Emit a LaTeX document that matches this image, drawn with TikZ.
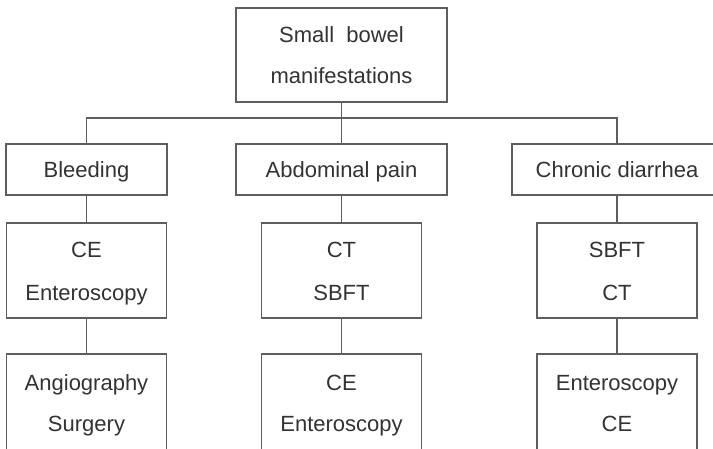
\documentclass[tikz,border=0pt]{standalone}
\usepackage{fontspec}
\setmainfont{Liberation Sans}
\usetikzlibrary{positioning}
\definecolor{mLine}{HTML}{5E5E5E}
\definecolor{mText}{HTML}{333333}

\begin{document}
\begin{tikzpicture}[
  x=1pt, y=-1pt,
  every node/.style={font=\fontsize{22}{26}\selectfont, text=mText},
  box/.style={draw=mLine, line width=1.1pt, fill=white, inner sep=0pt,
              align=center, minimum height=#1},
  topbox/.style={box=94pt, minimum width=211pt, font=\fontsize{22}{41}\selectfont},
  catbox/.style={box=51pt, text height=16pt, text depth=0pt},
  testbox/.style={box=95pt, minimum width=160pt, font=\fontsize{22}{43}\selectfont},
  nextbox/.style={box=98pt, minimum width=160pt, font=\fontsize{22}{41}\selectfont},
  conn/.style={draw=mLine, line width=1.1pt},
]
  % Page
  \useasboundingbox (0,0) rectangle (713,448);
  \clip (0,0) rectangle (713,448);

  % Root
  \node[topbox] (sbm) at (341.5,55) {\strut Small\ \ bowel\\\strut manifestations};
  \coordinate (bar) at (341.5,118);

  % Manifestations
  \node[catbox, minimum width=161pt] (bleed) at (86.5,169.5) {Bleeding};
  \node[catbox, minimum width=211pt] (pain) at (341.5,169.5) {Abdominal pain};
  \node[catbox, minimum width=210pt] (diar) at (617,169.5) {Chronic diarrhea};

  \draw[conn] (sbm.south) -- (bar);
  \draw[conn] (bleed.north) |- (bar) -| (diar.north);
  \draw[conn] (bar) -- (pain.north);

  % First and second line of tests
  \foreach \n/\x/\a/\b/\c/\d in {bleed/86.5/CE/Enteroscopy/Angiography/Surgery,
                                pain/341.5/CT/SBFT/CE/Enteroscopy,
                                diar/617/SBFT/CT/Enteroscopy/CE} {
    \node[testbox] (\n1) at (\x,270.5) {\strut\a\\\strut\b};
    \node[nextbox] (\n2) at (\x,403) {\strut\c\\\strut\d};
    \draw[conn] (\n.south) -- (\n1.north);
    \draw[conn] (\n1.south) -- (\n2.north);
  }
\end{tikzpicture}
\end{document}
